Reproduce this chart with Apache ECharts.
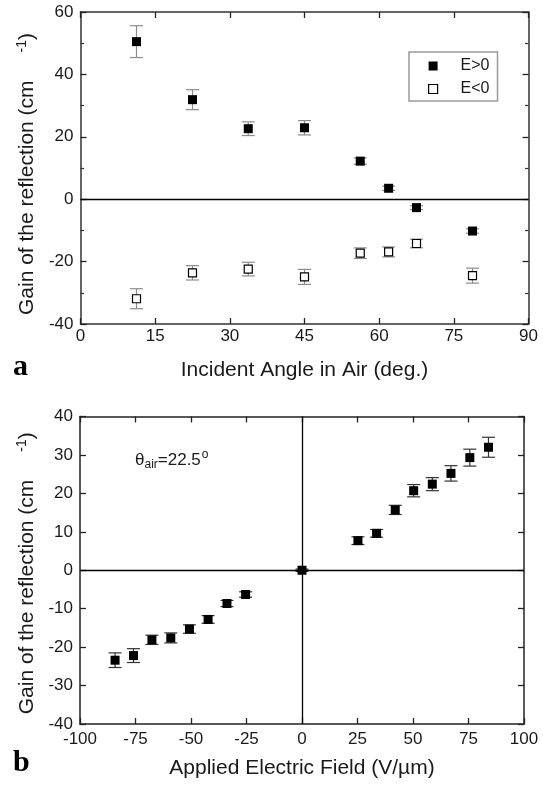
<!DOCTYPE html>
<html>
<head>
<meta charset="utf-8">
<script src="https://cdn.jsdelivr.net/npm/echarts@6/dist/echarts.min.js"></script>
<style>
html,body{margin:0;padding:0;background:#fff;}
#chart{width:543px;height:786px;}
</style>
</head>
<body>
<div id="chart"></div>
<script>
// ---- Panel a data ----
const angles = [11.25, 22.5, 33.7, 45, 56.2, 61.9, 67.5, 78.75];
const gainPos = [50.5, 31.9, 22.6, 22.9, 12.2, 3.5, -2.7, -10.2];
const errPos = [5.1, 3.2, 2.2, 2.3, 1.0, 0.7, 0.6, 0.7];
const gainNeg = [-31.9, -23.6, -22.4, -24.9, -17.3, -16.9, -14.2, -24.5];
const errNeg = [3.2, 2.3, 2.2, 2.4, 1.7, 1.6, 1.4, 2.4];
const angleTicks = [0, 15, 30, 45, 60, 75, 90];
const gainTicksA = [-40, -20, 0, 20, 40, 60];

// ---- Panel b data ----
const fields = [-84.2, -75.9, -67.6, -59.1, -50.7, -42.3, -33.8, -25.4, 0, 25.2, 33.6, 42, 50.3, 58.7, 67.1, 75.6, 84];
const gainField = [-23.4, -22.2, -18.1, -17.6, -15.3, -12.8, -8.65, -6.3, 0, 7.7, 9.6, 15.7, 20.7, 22.4, 25.2, 29.3, 32.0];
const errField = [1.9, 1.8, 1.2, 1.3, 1.1, 1.0, 0.8, 0.7, 0.3, 1.0, 1.0, 1.2, 1.6, 1.7, 2.0, 2.2, 2.6];
const fieldTicks = [-100, -75, -50, -25, 0, 25, 50, 75, 100];
const gainTicksB = [-40, -30, -20, -10, 0, 10, 20, 30, 40];

const FONT = "'Liberation Sans', Arial, Helvetica, sans-serif";

function zip2(xs, ys) { return xs.map((x, i) => [x, ys[i]]); }
function zip3(xs, ys, es) { return xs.map((x, i) => [x, ys[i], es[i]]); }

function errRender(color, halfCap) {
  return function (params, api) {
    const x = api.value(0), y = api.value(1), e = api.value(2);
    const t = api.coord([x, y + e]);
    const b = api.coord([x, y - e]);
    const st = { stroke: color, lineWidth: 1.2 };
    return {
      type: 'group',
      children: [
        { type: 'line', shape: { x1: t[0], y1: t[1], x2: b[0], y2: b[1] }, style: st },
        { type: 'line', shape: { x1: t[0] - halfCap, y1: t[1], x2: t[0] + halfCap, y2: t[1] }, style: st },
        { type: 'line', shape: { x1: b[0] - halfCap, y1: b[1], x2: b[0] + halfCap, y2: b[1] }, style: st }
      ]
    };
  };
}

function baseAxis(opts) {
  return Object.assign({
    type: 'value',
    splitLine: { show: false },
    axisLine: { show: true, onZero: false, lineStyle: { color: '#222', width: 1.5 } },
    axisTick: { show: true, inside: true, length: 6, lineStyle: { color: '#222', width: 1.3 } },
    axisLabel: { fontFamily: FONT, fontSize: 17, color: '#1a1a1a' }
  }, opts);
}

const yNameRich = {
  a: { fontFamily: FONT, fontSize: 21, color: '#1a1a1a', lineHeight: 24 },
  g: { width: 28, fontSize: 21, lineHeight: 24 },
  s: { fontFamily: FONT, fontSize: 14, color: '#1a1a1a', lineHeight: 14, verticalAlign: 'top' }
};
const yName = '{a|Gain of the reflection (cm}{g| }{s|-1}{a|)}';

const chart = echarts.init(document.getElementById('chart'), null, { renderer: 'canvas' });

const option = {
  animation: false,
  backgroundColor: '#fff',
  grid: [
    { left: 80.5, top: 12, width: 448, height: 312 },
    { left: 80, top: 416.5, width: 444, height: 307.5 }
  ],
  legend: {
    data: [
      { name: 'E>0', icon: 'rect', itemStyle: { color: '#000' } },
      { name: 'E<0', icon: 'rect', itemStyle: { color: '#fff', borderColor: '#000', borderWidth: 1.2 } }
    ],
    orient: 'vertical',
    left: 409, top: 52,
    padding: [4, 8, 2, 19],
    itemWidth: 9, itemHeight: 9, itemGap: 3,
    borderColor: '#999', borderWidth: 1.5,
    selectedMode: false,
    textStyle: { fontFamily: FONT, fontSize: 16, color: '#1a1a1a', lineHeight: 20, padding: [0, 0, 0, 18] }
  },
  xAxis: [
    baseAxis({
      gridIndex: 0, min: angleTicks[0], max: angleTicks[angleTicks.length - 1], interval: angleTicks[1] - angleTicks[0],
      position: 'bottom',
      axisLine: { show: true, onZero: false, lineStyle: { color: '#333', width: 1.5 } },
      axisLabel: { fontFamily: FONT, fontSize: 17, color: '#1a1a1a', margin: 4 },
      name: 'Incident Angle in Air (deg.)', nameLocation: 'middle', nameGap: 36,
      nameTextStyle: { fontFamily: FONT, fontSize: 21, color: '#1a1a1a' }
    }),
    baseAxis({
      gridIndex: 0, min: angleTicks[0], max: angleTicks[angleTicks.length - 1], interval: angleTicks[1] - angleTicks[0],
      position: 'top',
      axisLine: { show: true, onZero: false, lineStyle: { color: '#333', width: 1.5 } },
      axisLabel: { show: false }
    }),
    baseAxis({
      gridIndex: 1, min: fieldTicks[0], max: fieldTicks[fieldTicks.length - 1], interval: fieldTicks[1] - fieldTicks[0],
      position: 'bottom',
      axisLabel: { fontFamily: FONT, fontSize: 17, color: '#1a1a1a', margin: 7 },
      name: 'Applied Electric Field (V/\u00b5m)', nameLocation: 'middle', nameGap: 34,
      nameTextStyle: { fontFamily: FONT, fontSize: 21, color: '#1a1a1a' }
    }),
    baseAxis({
      gridIndex: 1, min: fieldTicks[0], max: fieldTicks[fieldTicks.length - 1], interval: fieldTicks[1] - fieldTicks[0],
      position: 'top',
      axisLabel: { show: false }
    })
  ],
  yAxis: [
    baseAxis({
      gridIndex: 0, min: gainTicksA[0], max: gainTicksA[gainTicksA.length - 1], interval: gainTicksA[1] - gainTicksA[0],
      position: 'left',
      axisLine: { show: true, onZero: false, lineStyle: { color: '#333', width: 1.5 } },
      minorTick: { show: true, splitNumber: 2, length: 3.5, lineStyle: { color: '#333', width: 1.2 } },
      axisLabel: { fontFamily: FONT, fontSize: 17, color: '#1a1a1a', margin: 7 },
      name: yName, nameLocation: 'middle', nameGap: 40,
      nameTextStyle: { rich: yNameRich, padding: [0, 12, 0, 0] }
    }),
    baseAxis({
      gridIndex: 0, min: gainTicksA[0], max: gainTicksA[gainTicksA.length - 1], interval: gainTicksA[1] - gainTicksA[0],
      position: 'right',
      axisLine: { show: true, onZero: false, lineStyle: { color: '#333', width: 1.5 } },
      minorTick: { show: true, splitNumber: 2, length: 3.5, lineStyle: { color: '#333', width: 1.2 } },
      axisLabel: { show: false }
    }),
    baseAxis({
      gridIndex: 1, min: gainTicksB[0], max: gainTicksB[gainTicksB.length - 1], interval: gainTicksB[1] - gainTicksB[0],
      position: 'left',
      axisLabel: { fontFamily: FONT, fontSize: 17, color: '#1a1a1a', margin: 7 },
      name: yName, nameLocation: 'middle', nameGap: 40,
      nameTextStyle: { rich: yNameRich, padding: [0, 6, 0, 0] }
    }),
    baseAxis({
      gridIndex: 1, min: gainTicksB[0], max: gainTicksB[gainTicksB.length - 1], interval: gainTicksB[1] - gainTicksB[0],
      position: 'right',
      axisLabel: { show: false }
    })
  ],
  graphic: [
    { type: 'text', left: 13, top: 352, style: { text: 'a', font: "bold 30px 'Liberation Serif', 'Times New Roman', serif", fill: '#000' } },
    { type: 'text', left: 13, top: 748, style: { text: 'b', font: "bold 30px 'Liberation Serif', 'Times New Roman', serif", fill: '#000' } },
    { type: 'text', left: 135, top: 449,
      style: {
        text: '{t|\u03b8}{sub|air}{n|=22.5}{sup|o}',
        rich: {
          t: { fontFamily: FONT, fontSize: 17, fill: '#1a1a1a', lineHeight: 22, verticalAlign: 'middle' },
          n: { fontFamily: FONT, fontSize: 17, fill: '#1a1a1a', lineHeight: 22, verticalAlign: 'middle' },
          sub: { fontFamily: FONT, fontSize: 12, fill: '#1a1a1a', lineHeight: 12, verticalAlign: 'bottom' },
          sup: { fontFamily: FONT, fontSize: 12, fill: '#1a1a1a', lineHeight: 12, verticalAlign: 'top', padding: [0, 0, 0, 1] }
        }
      }
    }
  ],
  series: [
    {
      name: 'errE>0', type: 'custom', xAxisIndex: 0, yAxisIndex: 0, z: 2,
      renderItem: errRender('#8c8c8c', 6.5), data: zip3(angles, gainPos, errPos), silent: true
    },
    {
      name: 'errE<0', type: 'custom', xAxisIndex: 0, yAxisIndex: 0, z: 2,
      renderItem: errRender('#8c8c8c', 6.5), data: zip3(angles, gainNeg, errNeg), silent: true
    },
    {
      name: 'E>0', type: 'scatter', xAxisIndex: 0, yAxisIndex: 0, z: 3,
      symbol: 'rect', symbolSize: 9, itemStyle: { color: '#000', opacity: 1 },
      data: zip2(angles, gainPos),
      markLine: {
        silent: true, symbol: ['none', 'none'], label: { show: false },
        lineStyle: { color: '#000', width: 1.3, type: 'solid' },
        emphasis: { disabled: true },
        data: [{ yAxis: 0 }]
      }
    },
    {
      name: 'E<0', type: 'scatter', xAxisIndex: 0, yAxisIndex: 0, z: 3,
      symbol: 'rect', symbolSize: 8, itemStyle: { color: '#fff', borderColor: '#000', borderWidth: 1.2, opacity: 1 },
      data: zip2(angles, gainNeg)
    },
    {
      name: 'errB', type: 'custom', xAxisIndex: 2, yAxisIndex: 2, z: 2,
      renderItem: errRender('#333', 6.5), data: zip3(fields, gainField, errField), silent: true
    },
    {
      name: 'field', type: 'scatter', xAxisIndex: 2, yAxisIndex: 2, z: 3,
      symbol: 'rect', symbolSize: 9, itemStyle: { color: '#000', opacity: 1 },
      data: zip2(fields, gainField),
      markLine: {
        silent: true, symbol: ['none', 'none'], label: { show: false },
        lineStyle: { color: '#000', width: 1.3, type: 'solid' },
        emphasis: { disabled: true },
        data: [{ yAxis: 0 }, { xAxis: 0 }]
      }
    }
  ]
};

chart.setOption(option);
</script>
</body>
</html>
